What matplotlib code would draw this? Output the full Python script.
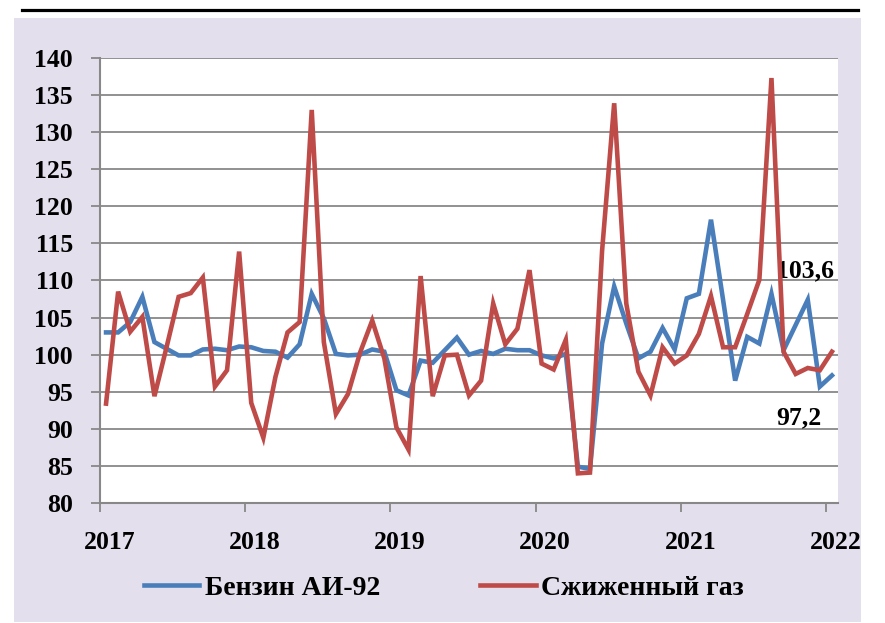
import matplotlib
matplotlib.use('Agg')

import matplotlib.pyplot as plt
from matplotlib.patches import Rectangle
from matplotlib.lines import Line2D
import numpy as np
import pandas as pd

plt.rcParams['font.family'] = ['Liberation Serif', 'DejaVu Serif']
plt.rcParams['font.weight'] = 'bold'

# monthly indices, Jan 2017 .. Jan 2022
months = pd.period_range('2017-01', '2022-01', freq='M')
year_labels = ['2017', '2018', '2019', '2020', '2021', '2022']

benzin = [103.0, 103.0, 104.4, 107.8, 101.7, 100.8, 99.9, 99.9, 100.7, 100.8,
          100.6, 101.1, 101.0, 100.5, 100.4, 99.6, 101.4, 108.2, 104.9, 100.1,
          99.9, 100.0, 100.7, 100.4, 95.2, 94.5, 99.2, 98.9, 100.6, 102.3,
          100.0, 100.5, 100.1, 100.8, 100.6, 100.6, 99.9, 99.5, 100.1, 84.9,
          84.6, 101.5, 109.2, 104.2, 99.5, 100.4, 103.6, 100.7, 107.6, 108.2,
          118.2, 107.4, 96.5, 102.4, 101.5, 108.2, 100.6, 104.0, 107.4, 95.7,
          97.2]

gas = [93.4, 108.5, 103.1, 105.1, 94.4, 101.0, 107.8, 108.3, 110.4, 95.7,
       97.9, 113.9, 93.5, 88.8, 97.0, 103.0, 104.4, 133.0, 101.7, 92.0,
       94.7, 100.3, 104.6, 99.5, 90.2, 87.2, 110.6, 94.4, 99.9, 100.0,
       94.5, 96.5, 106.9, 101.4, 103.5, 111.4, 98.8, 98.0, 102.0, 84.0,
       84.1, 114.0, 133.9, 106.9, 97.7, 94.5, 101.0, 98.8, 99.9, 102.8,
       107.9, 101.0, 101.0, 105.5, 110.1, 137.3, 100.4, 97.4, 98.2, 97.9,
       100.4]

x = np.arange(len(months))

fig = plt.figure(figsize=(8.85, 6.23), dpi=100)

# lavender backdrop and black rule on top
fig.patches.append(Rectangle((14 / 885, 1 / 623), 847 / 885, 604 / 623,
                             transform=fig.transFigure, facecolor='#E4DFEC',
                             edgecolor='none', zorder=-10))
fig.lines.append(Line2D([22 / 885, 858 / 885], [1 - 9.8 / 623, 1 - 9.8 / 623],
                        transform=fig.transFigure, color='black', lw=2.3))

ax = fig.add_axes([100 / 885, 1 - 503 / 623, 738 / 885, 445 / 623])
ax.set_facecolor('white')

grid_c = '#888888'
ax.plot(x, benzin, color='#4A7EBB', lw=3.3, label='Бензин АИ-92',
        solid_joinstyle='miter', zorder=3)
ax.plot(x, gas, color='#BE4B48', lw=3.3, label='Сжиженный газ',
        solid_joinstyle='miter', zorder=4)

ax.set_xlim(-0.5, len(months) - 0.5)
ax.set_ylim(80, 140)
ax.set_yticks(np.arange(80, 141, 5))
ax.yaxis.grid(True, color=grid_c, lw=1.3)
ax.set_axisbelow(True)

# year boundaries as minor ticks, labels slightly to the right
bounds = np.arange(-0.5, len(months), 12)
ax.set_xticks(bounds, minor=True)
ax.set_xticks(bounds + 0.8)
ax.set_xticklabels(year_labels)
ax.tick_params(axis='x', which='major', length=0, pad=20, labelsize=18.5)
ax.tick_params(axis='x', which='minor', length=6.5, width=1.3, color=grid_c,
               direction='out')
ax.tick_params(axis='y', length=6.5, width=1.3, color=grid_c, pad=13,
               labelsize=18.5)

for s in ['top', 'right']:
    ax.spines[s].set_visible(False)
for s in ['left', 'bottom']:
    ax.spines[s].set_color(grid_c)
    ax.spines[s].set_linewidth(1.5)

ax.text(55.4, 111.3, '103,6', fontsize=18.5, ha='left', va='center')
ax.text(55.4, 91.5, '97,2', fontsize=18.5, ha='left', va='center')

fig.legend(loc='center', bbox_to_anchor=(444 / 885, 1 - 588 / 623), ncol=2,
           frameon=False, prop={'size': 20, 'weight': 'bold'},
           handlelength=2.0, handletextpad=0.2, columnspacing=3.6)

fig.savefig('out.png', dpi=100)
